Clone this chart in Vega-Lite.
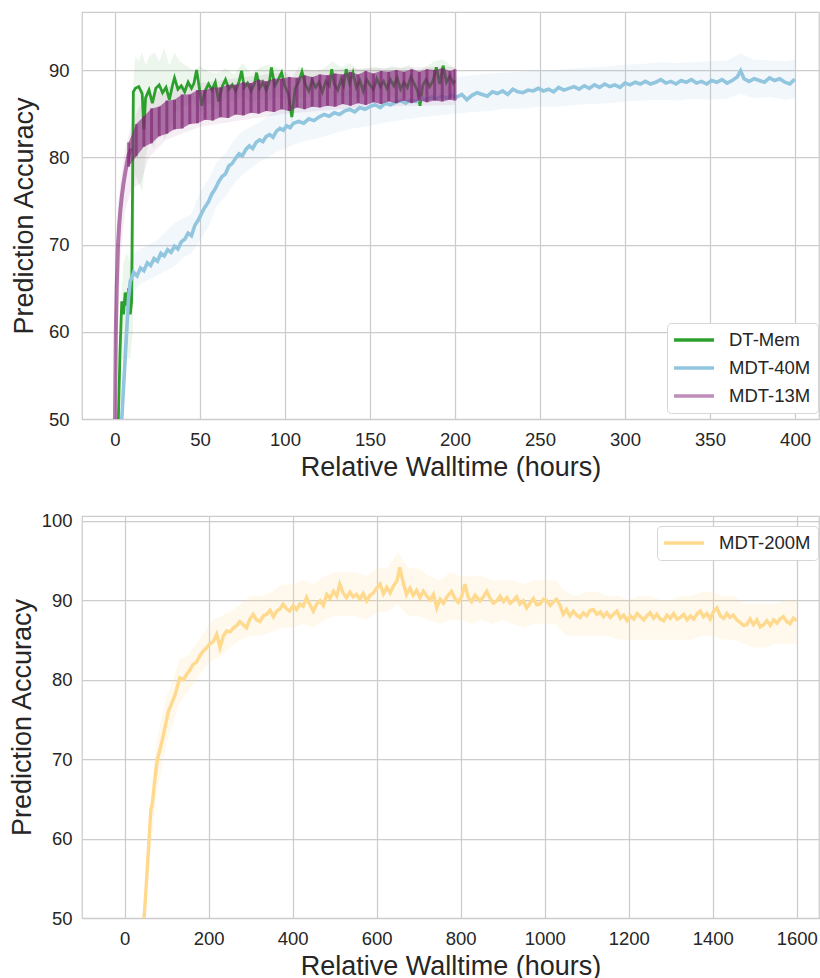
{
"$schema": "https://vega.github.io/schema/vega-lite/v6.json",
"background": "white",
"padding": {"left": 8, "top": 11, "right": 0, "bottom": 0},
"spacing": 28,
"datasets": {
"gl": [{"x":2,"y":50},{"x":3,"y":58},{"x":4,"y":63.5},{"x":5,"y":62},{"x":6,"y":64.5},{"x":7,"y":63},{"x":8,"y":65},{"x":9,"y":62},{"x":9.8,"y":63.5},{"x":10.8,"y":87.5},{"x":12,"y":87.9},{"x":14,"y":88.1},{"x":16,"y":87.3},{"x":17,"y":83.2},{"x":18,"y":86.8},{"x":20,"y":87.7},{"x":22,"y":86.2},{"x":24,"y":87.9},{"x":26,"y":88.3},{"x":28,"y":87.4},{"x":30,"y":88.0},{"x":32,"y":86.6},{"x":34,"y":88.4},{"x":35,"y":89.1},{"x":37,"y":87.8},{"x":39,"y":88.2},{"x":41,"y":87.5},{"x":43,"y":88.6},{"x":45,"y":87.9},{"x":46.5,"y":88.5},{"x":48,"y":90.0},{"x":49.5,"y":88.1},{"x":51,"y":85.9},{"x":53,"y":87.6},{"x":55,"y":88.4},{"x":57,"y":87.7},{"x":59,"y":88.6},{"x":61,"y":86.4},{"x":63,"y":88.1},{"x":65,"y":88.9},{"x":67,"y":87.8},{"x":69,"y":88.3},{"x":71,"y":87.6},{"x":73,"y":88.7},{"x":74.5,"y":89.9},{"x":76,"y":88.0},{"x":78,"y":88.5},{"x":80,"y":87.6},{"x":82,"y":88.4},{"x":83.3,"y":89.7},{"x":85,"y":87.9},{"x":87,"y":88.6},{"x":89,"y":87.7},{"x":91,"y":88.8},{"x":92,"y":90.3},{"x":94,"y":88.2},{"x":96,"y":88.9},{"x":98,"y":89.7},{"x":100,"y":88.1},{"x":102,"y":87.3},{"x":104,"y":84.6},{"x":106,"y":87.9},{"x":108,"y":88.6},{"x":110,"y":89.8},{"x":112,"y":88.3},{"x":114,"y":87.6},{"x":116,"y":88.8},{"x":118,"y":88.0},{"x":120,"y":88.6},{"x":122,"y":87.5},{"x":124,"y":88.7},{"x":126,"y":88.2},{"x":127.5,"y":90.1},{"x":129,"y":88.4},{"x":131,"y":87.7},{"x":133,"y":88.9},{"x":134.5,"y":88.2},{"x":136,"y":90.1},{"x":138,"y":88.5},{"x":140,"y":89.7},{"x":142,"y":88.0},{"x":144,"y":88.8},{"x":146,"y":87.6},{"x":148,"y":88.9},{"x":150,"y":88.3},{"x":152,"y":87.8},{"x":154,"y":89.0},{"x":156,"y":88.1},{"x":158,"y":88.7},{"x":160,"y":87.9},{"x":162,"y":88.9},{"x":164,"y":88.2},{"x":166,"y":89.1},{"x":168,"y":87.8},{"x":170,"y":88.6},{"x":172,"y":88.0},{"x":174,"y":89.2},{"x":176,"y":88.4},{"x":178,"y":87.6},{"x":179.4,"y":85.9},{"x":181,"y":88.2},{"x":183,"y":88.9},{"x":185,"y":88.1},{"x":187,"y":88.7},{"x":189,"y":90.3},{"x":191,"y":88.4},{"x":193,"y":90.5},{"x":195,"y":88.6},{"x":197,"y":89.3},{"x":199,"y":88.5},{"x":200,"y":88.8}],
"gb": [{"x":3,"lo":56,"hi":62},{"x":5,"lo":57,"hi":68},{"x":7,"lo":57,"hi":69},{"x":9,"lo":57,"hi":68},{"x":10.5,"lo":60,"hi":88},{"x":12,"lo":78,"hi":91.5},{"x":14,"lo":77,"hi":91},{"x":16,"lo":76,"hi":92},{"x":18,"lo":80,"hi":90.5},{"x":20,"lo":82,"hi":91.5},{"x":23,"lo":81,"hi":92},{"x":26,"lo":84,"hi":91},{"x":29,"lo":82,"hi":92.5},{"x":32,"lo":83,"hi":90.5},{"x":35,"lo":85,"hi":92},{"x":38,"lo":85.5,"hi":91},{"x":42,"lo":86,"hi":90.5},{"x":46,"lo":86.5,"hi":90},{"x":50,"lo":85,"hi":90.5},{"x":55,"lo":86.3,"hi":89.8},{"x":60,"lo":85.5,"hi":89.6},{"x":65,"lo":86.8,"hi":90.2},{"x":70,"lo":86.4,"hi":89.5},{"x":75,"lo":87.0,"hi":90.8},{"x":80,"lo":86.3,"hi":89.6},{"x":85,"lo":86.7,"hi":90.3},{"x":90,"lo":86.5,"hi":90.6},{"x":95,"lo":87.0,"hi":90.3},{"x":100,"lo":86.6,"hi":89.8},{"x":104,"lo":84.0,"hi":89.0},{"x":108,"lo":86.8,"hi":90.4},{"x":113,"lo":86.7,"hi":90.1},{"x":118,"lo":86.9,"hi":89.9},{"x":123,"lo":86.5,"hi":90.2},{"x":128,"lo":87.2,"hi":91.0},{"x":133,"lo":86.9,"hi":90.3},{"x":138,"lo":87.0,"hi":90.8},{"x":143,"lo":86.7,"hi":90.1},{"x":148,"lo":87.1,"hi":90.2},{"x":153,"lo":86.8,"hi":90.4},{"x":158,"lo":87.0,"hi":90.1},{"x":163,"lo":86.9,"hi":90.5},{"x":168,"lo":86.7,"hi":90.2},{"x":173,"lo":87.2,"hi":90.6},{"x":178,"lo":86.2,"hi":89.9},{"x":183,"lo":87.1,"hi":90.4},{"x":188,"lo":87.0,"hi":91.0},{"x":193,"lo":87.3,"hi":91.2},{"x":198,"lo":87.2,"hi":90.4},{"x":200,"lo":87.4,"hi":90.2}],
"bl": [{"x":4,"y":50},{"x":5,"y":53.5},{"x":6,"y":57},{"x":7,"y":60.5},{"x":8,"y":64},{"x":9,"y":65.8},{"x":10,"y":66.2},{"x":11,"y":66.8},{"x":13,"y":66.4},{"x":15,"y":67.3},{"x":17,"y":67.0},{"x":19,"y":67.9},{"x":21,"y":67.6},{"x":23,"y":68.4},{"x":25,"y":68.1},{"x":27,"y":69.0},{"x":29,"y":68.7},{"x":31,"y":69.4},{"x":33,"y":69.1},{"x":35,"y":69.8},{"x":37,"y":69.5},{"x":39,"y":70.3},{"x":41,"y":70.6},{"x":43,"y":71.3},{"x":45,"y":71.0},{"x":47,"y":72.2},{"x":49,"y":72.8},{"x":51,"y":73.6},{"x":53,"y":74.3},{"x":55,"y":74.9},{"x":57,"y":75.8},{"x":59,"y":76.4},{"x":61,"y":77.2},{"x":63,"y":77.8},{"x":65,"y":78.1},{"x":67,"y":79.0},{"x":69,"y":79.3},{"x":71,"y":79.9},{"x":73,"y":80.4},{"x":75,"y":80.2},{"x":77,"y":80.9},{"x":79,"y":81.3},{"x":81,"y":81.0},{"x":83,"y":81.7},{"x":85,"y":82.0},{"x":87,"y":81.8},{"x":89,"y":82.4},{"x":91,"y":82.6},{"x":93,"y":82.3},{"x":95,"y":83.0},{"x":97,"y":83.3},{"x":99,"y":83.1},{"x":101,"y":83.6},{"x":103,"y":83.4},{"x":105,"y":83.9},{"x":108,"y":84.1},{"x":111,"y":83.9},{"x":114,"y":84.4},{"x":117,"y":84.2},{"x":120,"y":84.6},{"x":123,"y":84.9},{"x":126,"y":84.7},{"x":129,"y":85.1},{"x":132,"y":84.9},{"x":135,"y":85.3},{"x":138,"y":85.5},{"x":141,"y":85.2},{"x":144,"y":85.7},{"x":147,"y":85.5},{"x":150,"y":85.8},{"x":153,"y":86.0},{"x":156,"y":85.7},{"x":159,"y":86.2},{"x":162,"y":86.0},{"x":165,"y":86.3},{"x":168,"y":86.5},{"x":171,"y":86.2},{"x":174,"y":86.6},{"x":177,"y":86.4},{"x":180,"y":86.8},{"x":183,"y":86.6},{"x":186,"y":86.9},{"x":189,"y":86.7},{"x":192,"y":87.0},{"x":195,"y":86.8},{"x":198,"y":87.1},{"x":201,"y":86.9},{"x":204,"y":87.2},{"x":207,"y":86.6},{"x":210,"y":87.1},{"x":213,"y":87.4},{"x":216,"y":87.2},{"x":219,"y":87.0},{"x":222,"y":87.5},{"x":225,"y":87.3},{"x":228,"y":87.6},{"x":231,"y":87.2},{"x":234,"y":87.8},{"x":237,"y":87.5},{"x":240,"y":87.4},{"x":243,"y":87.7},{"x":246,"y":87.6},{"x":249,"y":87.9},{"x":252,"y":87.6},{"x":255,"y":87.8},{"x":258,"y":87.5},{"x":261,"y":88.0},{"x":264,"y":87.7},{"x":267,"y":87.9},{"x":270,"y":88.1},{"x":273,"y":87.8},{"x":276,"y":88.2},{"x":279,"y":87.9},{"x":282,"y":88.3},{"x":285,"y":88.0},{"x":288,"y":88.4},{"x":291,"y":88.1},{"x":294,"y":88.3},{"x":297,"y":88.0},{"x":300,"y":88.5},{"x":303,"y":88.3},{"x":306,"y":88.6},{"x":309,"y":88.4},{"x":312,"y":88.7},{"x":315,"y":88.4},{"x":318,"y":88.6},{"x":321,"y":88.9},{"x":324,"y":88.5},{"x":327,"y":88.7},{"x":330,"y":88.4},{"x":333,"y":88.8},{"x":336,"y":88.6},{"x":339,"y":88.9},{"x":342,"y":88.5},{"x":345,"y":88.7},{"x":348,"y":88.4},{"x":351,"y":88.8},{"x":354,"y":88.6},{"x":357,"y":88.9},{"x":360,"y":88.5},{"x":363,"y":88.8},{"x":366,"y":89.2},{"x":368,"y":89.9},{"x":370,"y":89.0},{"x":373,"y":88.7},{"x":376,"y":89.0},{"x":379,"y":88.8},{"x":382,"y":88.6},{"x":385,"y":89.1},{"x":388,"y":88.8},{"x":391,"y":89.0},{"x":394,"y":88.6},{"x":397,"y":88.4},{"x":399,"y":88.8},{"x":400,"y":88.9}],
"bb": [{"x":4,"lo":50,"hi":53},{"x":5,"lo":52,"hi":57},{"x":7,"lo":58,"hi":64},{"x":9,"lo":63.5,"hi":68},{"x":11,"lo":64.5,"hi":69},{"x":15,"lo":65.5,"hi":69.5},{"x":20,"lo":66,"hi":70},{"x":25,"lo":66.5,"hi":70.5},{"x":30,"lo":67,"hi":71.5},{"x":35,"lo":67.5,"hi":72.5},{"x":40,"lo":68.5,"hi":73},{"x":45,"lo":69,"hi":73.5},{"x":50,"lo":70.5,"hi":76},{"x":55,"lo":72,"hi":77.5},{"x":60,"lo":74.5,"hi":79.5},{"x":65,"lo":75.5,"hi":80.5},{"x":70,"lo":77,"hi":82},{"x":75,"lo":78,"hi":83},{"x":80,"lo":78.8,"hi":83.5},{"x":85,"lo":79.5,"hi":84},{"x":90,"lo":80,"hi":84.8},{"x":95,"lo":80.6,"hi":85.3},{"x":100,"lo":81,"hi":85.6},{"x":110,"lo":81.8,"hi":86.3},{"x":120,"lo":82.2,"hi":86.8},{"x":130,"lo":82.8,"hi":87.3},{"x":140,"lo":83.3,"hi":87.7},{"x":150,"lo":83.6,"hi":88},{"x":160,"lo":84,"hi":88.3},{"x":170,"lo":84.3,"hi":88.6},{"x":180,"lo":84.6,"hi":88.9},{"x":190,"lo":84.8,"hi":89.1},{"x":200,"lo":85,"hi":89.2},{"x":210,"lo":85.2,"hi":89.4},{"x":220,"lo":85.3,"hi":89.6},{"x":230,"lo":85.6,"hi":89.7},{"x":240,"lo":85.6,"hi":89.8},{"x":250,"lo":85.8,"hi":90.0},{"x":260,"lo":85.8,"hi":90.0},{"x":270,"lo":86.0,"hi":90.2},{"x":280,"lo":86.1,"hi":90.3},{"x":290,"lo":86.2,"hi":90.4},{"x":300,"lo":86.4,"hi":90.6},{"x":310,"lo":86.5,"hi":90.7},{"x":320,"lo":86.6,"hi":90.9},{"x":330,"lo":86.5,"hi":90.8},{"x":340,"lo":86.7,"hi":90.9},{"x":350,"lo":86.6,"hi":91.0},{"x":360,"lo":86.7,"hi":91.1},{"x":368,"lo":87.3,"hi":91.9},{"x":375,"lo":86.8,"hi":91.2},{"x":385,"lo":86.9,"hi":91.1},{"x":395,"lo":86.6,"hi":91.0},{"x":400,"lo":86.8,"hi":91.2}],
"pe": [{"x":0,"y":50},{"x":0.5,"y":60},{"x":1,"y":65},{"x":1.8,"y":70},{"x":2.5,"y":72.3},{"x":3.2,"y":74},{"x":4,"y":75.5},{"x":5,"y":77},{"x":6,"y":78.2},{"x":7,"y":79.3},{"x":8,"y":80.3},{"x":9.5,"y":81.0}],
"pp": [{"x":0.5,"lo":52,"hi":66},{"x":1,"lo":55,"hi":72},{"x":3,"lo":68,"hi":77},{"x":6,"lo":74,"hi":81},{"x":10,"lo":76.5,"hi":84},{"x":15,"lo":77,"hi":86},{"x":20,"lo":80,"hi":87},{"x":30,"lo":82,"hi":88},{"x":50,"lo":83.5,"hi":88.5},{"x":100,"lo":85,"hi":89.8},{"x":150,"lo":85.8,"hi":90.2},{"x":200,"lo":86,"hi":90.4}],
"ps": [{"x":8,"lo":78.9,"hi":81.7},{"x":12.5,"lo":80.1,"hi":83.8},{"x":17,"lo":81.2,"hi":84.7},{"x":21.5,"lo":81.6,"hi":85.6},{"x":26,"lo":82.4,"hi":85.8},{"x":30.5,"lo":82.7,"hi":86.5},{"x":35,"lo":83.2,"hi":86.6},{"x":39.5,"lo":83.3,"hi":87.2},{"x":44,"lo":83.8,"hi":87.2},{"x":48.5,"lo":83.9,"hi":87.7},{"x":53,"lo":84.3,"hi":87.7},{"x":57.5,"lo":84.2,"hi":88.0},{"x":62,"lo":84.6,"hi":88.0},{"x":66.5,"lo":84.5,"hi":88.3},{"x":71,"lo":84.9,"hi":88.3},{"x":75.5,"lo":84.8,"hi":88.6},{"x":80,"lo":85.1,"hi":88.5},{"x":84.5,"lo":85.0,"hi":88.9},{"x":89,"lo":85.3,"hi":88.7},{"x":93.5,"lo":85.2,"hi":89.0},{"x":98,"lo":85.5,"hi":89.0},{"x":102.5,"lo":85.3,"hi":89.2},{"x":107,"lo":85.7,"hi":89.1},{"x":111.5,"lo":85.5,"hi":89.4},{"x":116,"lo":85.8,"hi":89.2},{"x":120.5,"lo":85.7,"hi":89.5},{"x":125,"lo":85.9,"hi":89.4},{"x":129.5,"lo":85.8,"hi":89.6},{"x":134,"lo":86.1,"hi":89.5},{"x":138.5,"lo":85.9,"hi":89.8},{"x":143,"lo":86.2,"hi":89.5},{"x":147.5,"lo":86.0,"hi":89.9},{"x":152,"lo":86.3,"hi":89.6},{"x":156.5,"lo":86.1,"hi":89.9},{"x":161,"lo":86.4,"hi":89.8},{"x":165.5,"lo":86.2,"hi":90.0},{"x":170,"lo":86.5,"hi":89.8},{"x":174.5,"lo":86.2,"hi":90.1},{"x":179,"lo":86.5,"hi":89.8},{"x":183.5,"lo":86.3,"hi":90.1},{"x":188,"lo":86.5,"hi":90.0},{"x":192.5,"lo":86.4,"hi":90.2},{"x":197,"lo":86.6,"hi":89.9},{"x":200,"lo":86.5,"hi":90.1}],
"yl": [{"x":46,"y":50},{"x":50,"y":53},{"x":54,"y":56.5},{"x":58,"y":60},{"x":62,"y":63.5},{"x":66,"y":64.5},{"x":70,"y":66.5},{"x":74,"y":68.5},{"x":78,"y":70.0},{"x":84,"y":71.2},{"x":90,"y":72.5},{"x":96,"y":74.0},{"x":104,"y":76.0},{"x":112,"y":77.0},{"x":120,"y":78.1},{"x":131,"y":80.2},{"x":140,"y":80.0},{"x":147,"y":80.6},{"x":155,"y":81.2},{"x":163,"y":81.9},{"x":171,"y":82.2},{"x":179,"y":83.0},{"x":187,"y":83.6},{"x":195,"y":84.0},{"x":203,"y":84.5},{"x":211,"y":84.8},{"x":219,"y":85.7},{"x":227,"y":84.0},{"x":235,"y":85.5},{"x":243,"y":86.1},{"x":251,"y":86.0},{"x":259,"y":86.5},{"x":267,"y":86.8},{"x":274,"y":87.3},{"x":282,"y":86.9},{"x":290,"y":86.5},{"x":298,"y":87.6},{"x":306,"y":88.2},{"x":314,"y":87.5},{"x":322,"y":87.3},{"x":330,"y":88.0},{"x":338,"y":88.2},{"x":346,"y":88.7},{"x":354,"y":87.9},{"x":362,"y":88.6},{"x":370,"y":88.9},{"x":377,"y":89.5},{"x":385,"y":88.9},{"x":393,"y":88.6},{"x":401,"y":89.3},{"x":409,"y":88.8},{"x":417,"y":89.5},{"x":425,"y":89.2},{"x":433,"y":90.3},{"x":441,"y":89.4},{"x":449,"y":88.6},{"x":457,"y":89.5},{"x":465,"y":89.9},{"x":473,"y":89.3},{"x":481,"y":90.7},{"x":489,"y":90.2},{"x":497,"y":91.1},{"x":505,"y":90.5},{"x":512,"y":92.0},{"x":520,"y":90.9},{"x":528,"y":90.3},{"x":536,"y":91.0},{"x":544,"y":90.4},{"x":552,"y":90.7},{"x":560,"y":90.1},{"x":568,"y":90.8},{"x":576,"y":89.9},{"x":584,"y":90.6},{"x":592,"y":90.9},{"x":600,"y":91.5},{"x":608,"y":92.0},{"x":616,"y":90.8},{"x":624,"y":91.6},{"x":632,"y":90.9},{"x":640,"y":91.8},{"x":648,"y":92.4},{"x":655,"y":94.1},{"x":663,"y":92.2},{"x":671,"y":90.7},{"x":679,"y":91.5},{"x":687,"y":90.6},{"x":695,"y":91.2},{"x":703,"y":90.3},{"x":711,"y":91.1},{"x":719,"y":90.5},{"x":727,"y":90.0},{"x":735,"y":90.7},{"x":743,"y":89.0},{"x":751,"y":90.1},{"x":759,"y":89.6},{"x":767,"y":90.4},{"x":778,"y":91.1},{"x":786,"y":90.2},{"x":794,"y":89.7},{"x":802,"y":90.4},{"x":810,"y":92.0},{"x":818,"y":90.3},{"x":826,"y":89.8},{"x":834,"y":90.6},{"x":846,"y":89.9},{"x":854,"y":90.4},{"x":862,"y":91.1},{"x":870,"y":90.2},{"x":878,"y":89.6},{"x":886,"y":89.9},{"x":894,"y":90.5},{"x":902,"y":89.8},{"x":910,"y":90.3},{"x":918,"y":89.6},{"x":925,"y":89.9},{"x":933,"y":90.4},{"x":941,"y":89.5},{"x":949,"y":89.9},{"x":957,"y":89.0},{"x":965,"y":89.6},{"x":973,"y":90.2},{"x":981,"y":89.4},{"x":989,"y":89.5},{"x":997,"y":90.1},{"x":1005,"y":89.9},{"x":1013,"y":89.3},{"x":1021,"y":89.8},{"x":1028,"y":90.1},{"x":1036,"y":89.4},{"x":1044,"y":88.2},{"x":1052,"y":88.8},{"x":1060,"y":88.0},{"x":1068,"y":88.6},{"x":1076,"y":88.1},{"x":1084,"y":87.8},{"x":1092,"y":88.4},{"x":1100,"y":88.0},{"x":1108,"y":88.7},{"x":1116,"y":88.8},{"x":1124,"y":88.2},{"x":1132,"y":88.5},{"x":1140,"y":87.9},{"x":1148,"y":88.4},{"x":1156,"y":87.8},{"x":1164,"y":88.2},{"x":1172,"y":88.6},{"x":1180,"y":87.7},{"x":1188,"y":88.1},{"x":1196,"y":87.4},{"x":1204,"y":88.0},{"x":1212,"y":87.6},{"x":1220,"y":88.3},{"x":1228,"y":87.9},{"x":1236,"y":87.5},{"x":1243,"y":88.0},{"x":1251,"y":88.4},{"x":1259,"y":87.7},{"x":1267,"y":88.2},{"x":1275,"y":87.6},{"x":1283,"y":87.4},{"x":1291,"y":88.1},{"x":1299,"y":87.7},{"x":1307,"y":88.3},{"x":1315,"y":87.6},{"x":1323,"y":87.8},{"x":1331,"y":88.2},{"x":1339,"y":87.5},{"x":1347,"y":88.0},{"x":1355,"y":87.6},{"x":1363,"y":88.3},{"x":1370,"y":88.6},{"x":1378,"y":87.9},{"x":1386,"y":88.3},{"x":1394,"y":87.6},{"x":1402,"y":88.6},{"x":1410,"y":89.0},{"x":1418,"y":88.0},{"x":1426,"y":87.7},{"x":1434,"y":88.3},{"x":1441,"y":87.8},{"x":1449,"y":88.1},{"x":1457,"y":87.5},{"x":1465,"y":87.2},{"x":1473,"y":86.8},{"x":1481,"y":86.9},{"x":1489,"y":87.6},{"x":1497,"y":86.9},{"x":1505,"y":87.5},{"x":1513,"y":86.6},{"x":1521,"y":86.9},{"x":1529,"y":87.4},{"x":1537,"y":86.8},{"x":1545,"y":87.5},{"x":1553,"y":87.1},{"x":1560,"y":87.6},{"x":1568,"y":87.9},{"x":1576,"y":87.3},{"x":1584,"y":87.0},{"x":1592,"y":87.7},{"x":1600,"y":87.4}],
"yb": [{"x":46,"lo":49,"hi":51},{"x":55,"lo":54,"hi":60},{"x":65,"lo":60,"hi":67},{"x":75,"lo":65,"hi":72},{"x":85,"lo":68,"hi":74.5},{"x":100,"lo":72,"hi":78},{"x":115,"lo":74.5,"hi":80},{"x":130,"lo":77,"hi":82.5},{"x":150,"lo":78.5,"hi":83},{"x":170,"lo":80,"hi":84.5},{"x":190,"lo":81.5,"hi":86},{"x":210,"lo":82.5,"hi":87.5},{"x":230,"lo":83,"hi":88},{"x":250,"lo":84,"hi":88.5},{"x":275,"lo":85,"hi":89.5},{"x":300,"lo":85.5,"hi":90.5},{"x":325,"lo":85.5,"hi":90.5},{"x":350,"lo":86,"hi":91},{"x":375,"lo":86.5,"hi":92},{"x":400,"lo":86.5,"hi":92},{"x":425,"lo":87,"hi":92.5},{"x":450,"lo":86.5,"hi":92},{"x":475,"lo":87.5,"hi":93},{"x":500,"lo":88,"hi":93.5},{"x":525,"lo":88,"hi":93.5},{"x":550,"lo":88,"hi":93.5},{"x":575,"lo":87.5,"hi":93},{"x":600,"lo":88.5,"hi":94},{"x":625,"lo":88.5,"hi":94},{"x":650,"lo":89.5,"hi":96},{"x":675,"lo":88,"hi":94},{"x":700,"lo":88,"hi":94},{"x":725,"lo":87.5,"hi":93},{"x":750,"lo":87,"hi":92.5},{"x":775,"lo":87.5,"hi":93.5},{"x":800,"lo":87.5,"hi":93},{"x":825,"lo":87,"hi":93},{"x":850,"lo":87.5,"hi":93},{"x":875,"lo":87,"hi":92.5},{"x":900,"lo":87.5,"hi":92.5},{"x":925,"lo":87,"hi":92.5},{"x":950,"lo":86.5,"hi":92},{"x":975,"lo":87,"hi":92.5},{"x":1000,"lo":87,"hi":92.5},{"x":1025,"lo":87,"hi":92.5},{"x":1050,"lo":85.5,"hi":91},{"x":1075,"lo":85.5,"hi":90.5},{"x":1100,"lo":85.5,"hi":91},{"x":1125,"lo":85.5,"hi":91},{"x":1150,"lo":85.5,"hi":90.5},{"x":1175,"lo":85,"hi":90.5},{"x":1200,"lo":85,"hi":90},{"x":1225,"lo":85,"hi":90.5},{"x":1250,"lo":85,"hi":90.5},{"x":1275,"lo":85,"hi":90},{"x":1300,"lo":85,"hi":90},{"x":1325,"lo":85,"hi":90.5},{"x":1350,"lo":85,"hi":90.5},{"x":1375,"lo":85.5,"hi":91},{"x":1400,"lo":85.5,"hi":91},{"x":1425,"lo":85,"hi":90.5},{"x":1450,"lo":85,"hi":90.5},{"x":1475,"lo":84.5,"hi":89.5},{"x":1500,"lo":84,"hi":89.5},{"x":1525,"lo":84,"hi":89.5},{"x":1550,"lo":84.5,"hi":89.5},{"x":1575,"lo":84.5,"hi":90},{"x":1600,"lo":84.5,"hi":90}]
},
"vconcat": [
{
"width": 737, "height": 407,
"layer": [
{"data": {"name": "gb"}, "mark": {"type": "area", "color": "#2ca02c", "opacity": 0.09},
 "encoding": {
  "x": {"field": "x", "type": "quantitative", "scale": {"domain": [-19.4, 414.1], "nice": false, "zero": false}, "axis": {"title": "Relative Walltime (hours)", "values": [0,50,100,150,200,250,300,350,400]}},
  "y": {"field": "lo", "type": "quantitative", "scale": {"domain": [50, 96.65], "nice": false, "zero": false}, "axis": {"title": "Prediction Accuracy", "values": [50,60,70,80,90], "labelPadding": 13, "titlePadding": 10}},
  "y2": {"field": "hi"}}},
{"data": {"name": "bb"}, "mark": {"type": "area", "color": "#92c5de", "opacity": 0.13},
 "encoding": {"x": {"field": "x", "type": "quantitative"}, "y": {"field": "lo", "type": "quantitative"}, "y2": {"field": "hi"}}},
{"data": {"name": "pp"}, "mark": {"type": "area", "color": "#872a7b", "opacity": 0.08},
 "encoding": {"x": {"field": "x", "type": "quantitative"}, "y": {"field": "lo", "type": "quantitative"}, "y2": {"field": "hi"}}},
{"data": {"name": "gl"}, "mark": {"type": "line", "strokeWidth": 2.8, "clip": true},
 "encoding": {"x": {"field": "x", "type": "quantitative"}, "y": {"field": "y", "type": "quantitative"},
  "color": {"datum": "DT-Mem", "type": "nominal", "scale": {"domain": ["DT-Mem", "MDT-40M", "MDT-13M"], "range": ["#2ca02c", "#92c5de", "#bf8dba"]},
   "legend": {"title": null, "orient": "none", "legendX": 585, "legendY": 311, "symbolType": "M-1.25,0H3.75", "symbolSize": 256, "symbolStrokeWidth": 3.5, "labelOffset": 35, "padding": 7, "rowPadding": 8, "labelFontSize": 18.5, "labelFont": "Liberation Sans", "labelColor": "#262626", "strokeColor": "#d6d6d6", "fillColor": "white", "cornerRadius": 4}}}},
{"data": {"name": "bl"}, "mark": {"type": "line", "strokeWidth": 3.6, "clip": true},
 "encoding": {"x": {"field": "x", "type": "quantitative"}, "y": {"field": "y", "type": "quantitative"},
  "color": {"datum": "MDT-40M", "type": "nominal"}}},
{"data": {"name": "pe"}, "mark": {"type": "line", "strokeWidth": 4, "color": "#872a7b", "opacity": 0.62, "clip": true},
 "encoding": {"x": {"field": "x", "type": "quantitative"}, "y": {"field": "y", "type": "quantitative"}}},
{"data": {"name": "ps"}, "mark": {"type": "area", "color": "#872a7b", "opacity": 0.64},
 "encoding": {"x": {"field": "x", "type": "quantitative"}, "y": {"field": "lo", "type": "quantitative"}, "y2": {"field": "hi"}}},
{"data": {"name": "ps"}, "mark": {"type": "rule", "color": "#7a2270", "opacity": 0.6, "strokeWidth": 3},
 "encoding": {"x": {"field": "x", "type": "quantitative"}, "y": {"field": "lo", "type": "quantitative"}, "y2": {"field": "hi"}}}
]
},
{
"width": 737, "height": 402,
"layer": [
{"data": {"name": "yb"}, "mark": {"type": "area", "color": "#fed98e", "opacity": 0.16},
 "encoding": {
  "x": {"field": "x", "type": "quantitative", "scale": {"domain": [-101.7, 1653], "nice": false, "zero": false}, "axis": {"title": "Relative Walltime (hours)", "format": "d", "values": [0,200,400,600,800,1000,1200,1400,1600]}},
  "y": {"field": "lo", "type": "quantitative", "scale": {"domain": [50, 100.57], "nice": false, "zero": false}, "axis": {"title": "Prediction Accuracy", "values": [50,60,70,80,90,100], "labelPadding": 10, "titlePadding": 4.5}},
  "y2": {"field": "hi"}}},
{"data": {"name": "yl"}, "mark": {"type": "line", "strokeWidth": 3.4, "clip": true},
 "encoding": {"x": {"field": "x", "type": "quantitative"}, "y": {"field": "y", "type": "quantitative"},
  "color": {"datum": "MDT-200M", "type": "nominal", "scale": {"domain": ["MDT-200M"], "range": ["#fed98e"]},
   "legend": {"title": null, "orient": "none", "legendX": 575, "legendY": 10, "symbolType": "M-1.25,0H3.75", "symbolSize": 256, "symbolStrokeWidth": 3.5, "labelOffset": 35, "padding": 7, "labelFontSize": 18.5, "labelFont": "Liberation Sans", "labelColor": "#262626", "strokeColor": "#d6d6d6", "fillColor": "white", "cornerRadius": 4}}}}
]
}
],
"resolve": {"scale": {"color": "independent"}},
"config": {
 "font": "Liberation Sans",
 "view": {"stroke": "#cccccc", "strokeWidth": 1.25},
 "axis": {"grid": true, "gridColor": "#cccccc", "gridWidth": 1.25, "domain": false, "ticks": false, "labelFontSize": 18.5, "labelFont": "Liberation Sans", "labelColor": "#262626", "titleFontSize": 27, "titleFont": "Liberation Sans", "titleFontWeight": "normal", "titleColor": "#262626", "labelOverlap": false, "labelFlush": false},
 "axisX": {"labelPadding": 11, "titlePadding": 6}
}
}
